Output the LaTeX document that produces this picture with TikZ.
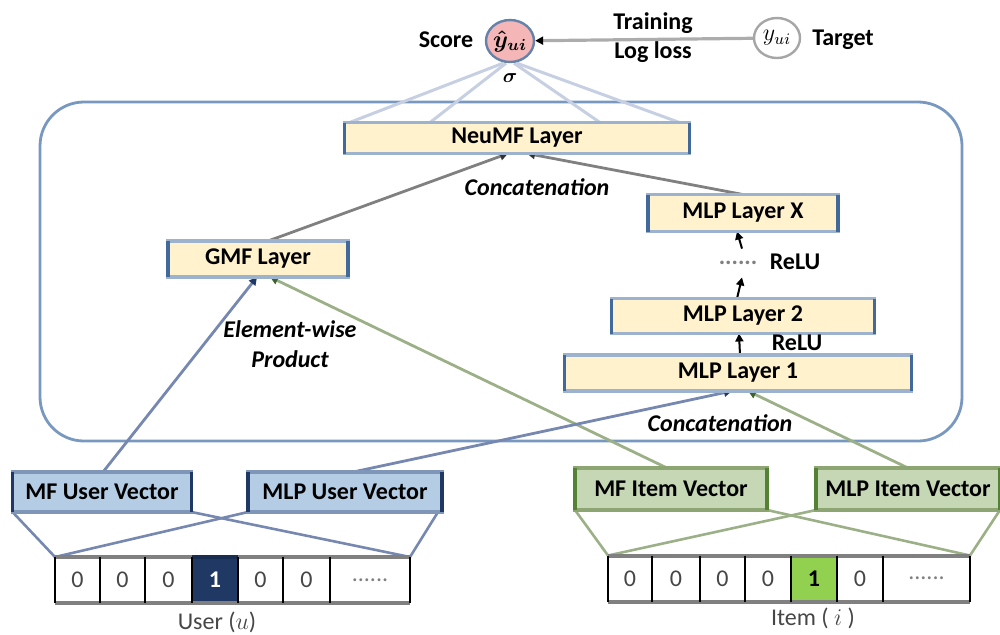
\documentclass[tikz,border=0pt]{standalone}
\usepackage{fontspec}
\setmainfont{Carlito}
\usetikzlibrary{arrows.meta,shapes.geometric}

\definecolor{layerfill}{RGB}{255,242,204}
\definecolor{layeredge}{RGB}{157,178,204}
\definecolor{layerside}{RGB}{65,105,155}
\definecolor{ufill}{RGB}{180,204,228}
\definecolor{uedge}{RGB}{128,150,184}
\definecolor{uside}{RGB}{31,56,100}
\definecolor{ifill}{RGB}{197,215,180}
\definecolor{iedge}{RGB}{140,165,115}
\definecolor{iside}{RGB}{84,130,53}
\definecolor{uline}{RGB}{118,136,176}
\definecolor{iline}{RGB}{156,176,136}
\definecolor{utip}{RGB}{31,56,100}
\definecolor{itip}{RGB}{60,100,40}
\definecolor{sigline}{RGB}{198,208,226}
\definecolor{framecol}{RGB}{120,152,192}
\definecolor{scorefill}{RGB}{244,182,182}
\definecolor{scoreedge}{RGB}{100,130,170}
\definecolor{navy}{RGB}{31,56,100}
\definecolor{onegreen}{RGB}{146,208,80}
\definecolor{cellrule}{RGB}{128,128,128}
\definecolor{celltext}{RGB}{70,70,70}

\pgfdeclarelayer{bg}
\pgfsetlayers{bg,main}

\tikzset{
  lbl/.style={font=\fontsize{12}{14}\selectfont\bfseries, inner sep=1pt},
  itlbl/.style={font=\fontsize{12}{14}\selectfont\bfseries\itshape, inner sep=1pt},
  mathlbl/.style={font=\fontsize{12}{14}\selectfont\boldmath},
  layerbox/.style={fill=layerfill, draw=layeredge, line width=1.6pt, inner sep=0, outer sep=0,
    font=\fontsize{12}{14}\selectfont\bfseries},
  uvec/.style={fill=ufill, draw=uedge, line width=1.6pt, inner sep=0, outer sep=0,
    font=\fontsize{12}{14}\selectfont\bfseries},
  ivec/.style={fill=ifill, draw=iedge, line width=1.6pt, inner sep=0, outer sep=0,
    font=\fontsize{12}{14}\selectfont\bfseries},
  cell/.style={fill=white, minimum height=23pt, inner sep=0, outer sep=0,
    font=\fontsize{12}{14}\selectfont, text=celltext},
  uarr/.style={uline, line width=1.4pt, -{Triangle[length=4pt,width=4pt,color=utip]}},
  iarr/.style={iline, line width=1.4pt, -{Triangle[length=4pt,width=4pt,color=itip]}},
  garr/.style={gray, line width=1.4pt, -{Triangle[length=4pt,width=4pt,color=black!80]}},
  karr/.style={black, line width=1pt, -{Triangle[length=4pt,width=4pt]}},
  ulink/.style={uline, line width=1.3pt},
  ilink/.style={iline, line width=1.3pt},
  siglink/.style={sigline, line width=1.5pt},
}

\begin{document}
\begin{tikzpicture}[x=0.5pt,y=-0.5pt]
\useasboundingbox (0,0) rectangle (1000,634);

% output and target
\node[ellipse, fill=scorefill, draw=scoreedge, line width=1.2pt, minimum width=24pt, minimum height=21pt, inner sep=0, mathlbl] (score) at (510,41) {$\hat{y}_{ui}$};
\node[ellipse, draw=gray!70, line width=1.2pt, minimum width=23pt, minimum height=20pt, inner sep=0, font=\fontsize{12}{14}\selectfont] (target) at (777,38) {$y_{ui}$};
\node[lbl] (scorelbl) at (446,40) {Score};
\node[lbl] (targetlbl) at (843,40) {Target};
\node[lbl] (train) at (653,23) {Training};
\node[lbl] (logloss) at (653,52) {Log loss};
\node[inner sep=0, font=\boldmath] (sigma) at (510,78) {$\sigma$};

% NeuMF layers
\node[layerbox, minimum width=172.5pt, minimum height=15.5pt] (neumf) at (517,138) {NeuMF Layer};
\node[layerbox, minimum width=90pt, minimum height=18pt] (gmf) at (258,259) {GMF Layer};
\node[layerbox, minimum width=95pt, minimum height=18.5pt] (mlpx) at (743,213) {MLP Layer X};
\node[layerbox, minimum width=131.5pt, minimum height=17.5pt] (mlp2) at (743,316) {MLP Layer 2};
\node[layerbox, minimum width=173.5pt, minimum height=18pt] (mlp1) at (738,373) {MLP Layer 1};
\foreach \n in {neumf,gmf,mlpx,mlp2,mlp1}
  \draw[layerside, line width=1.6pt] (\n.north west) -- (\n.south west)
                                     (\n.north east) -- (\n.south east);

\node[font=\fontsize{12}{14}\selectfont\bfseries, text=gray, inner sep=0, minimum height=14pt] (dots) at (738,263) {......};
\node[lbl] (relu2) at (795,262) {ReLU};
\node[lbl] (relu1) at (797,343) {ReLU};
\node[itlbl] (concattop) at (537,187) {Concatenation};
\node[itlbl] (concatbot) at (720,423) {Concatenation};
\node[itlbl, align=center] (ewp) at (290,344) {Element-wise\\[1pt]Product};

% embedding vectors
\node[uvec, minimum width=89.5pt, minimum height=20pt] (mfu) at (102,492) {MF User Vector};
\node[uvec, minimum width=97pt, minimum height=20pt] (mlpu) at (345,492) {MLP User Vector};
\node[ivec, minimum width=96pt, minimum height=21pt] (mfi) at (671,489) {MF Item Vector};
\node[ivec, minimum width=92pt, minimum height=21pt] (mlpi) at (908,489) {MLP Item Vector};
\foreach \n in {mfu,mlpu}
  \draw[uside, line width=1.6pt] (\n.north west) -- (\n.south west)
                                 (\n.north east) -- (\n.south east);
\foreach \n in {mfi,mlpi}
  \draw[iside, line width=1.6pt] (\n.north west) -- (\n.south west)
                                 (\n.north east) -- (\n.south east);

% one-hot user input
\node[cell, minimum width=22.5pt] (u1) at (77.5,580) {0};
\node[cell, minimum width=22.5pt] (u2) at (122.5,580) {0};
\node[cell, minimum width=23.5pt] (u3) at (168.5,580) {0};
\node[cell, minimum width=23pt, fill=navy, text=white, font=\fontsize{12}{14}\selectfont\bfseries] (u4) at (215,580) {1};
\node[cell, minimum width=22.5pt] (u5) at (260.5,580) {0};
\node[cell, minimum width=23.5pt] (u6) at (306.5,580) {0};
\node[cell, minimum width=40pt, text=gray] (u7) at (370,580) {......};
\node[font=\fontsize{12}{14}\selectfont, text=celltext, inner sep=1pt] (ulbl) at (217,622) {User ($u$)};

% one-hot item input
\node[cell, minimum width=22pt] (i1) at (630,578.5) {0};
\node[cell, minimum width=24pt] (i2) at (676,578.5) {0};
\node[cell, minimum width=22.5pt] (i3) at (722.5,578.5) {0};
\node[cell, minimum width=23pt] (i4) at (768,578.5) {0};
\node[cell, minimum width=23pt, fill=onegreen, text=black, font=\fontsize{12}{14}\selectfont\bfseries] (i5) at (814,578.5) {1};
\node[cell, minimum width=23pt] (i6) at (860,578.5) {0};
\node[cell, minimum width=43.5pt, text=gray] (i7) at (926.5,578.5) {......};
\node[font=\fontsize{12}{14}\selectfont, text=celltext, inner sep=1pt] (ilbl) at (813,618) {Item ( $i$ )};

% cell outlines
\draw[cellrule, line width=2pt] (u1.north west) -- (u7.north east) (u1.south west) -- (u7.south east);
\draw[cellrule, line width=2pt] (i1.north west) -- (i7.north east) (i1.south west) -- (i7.south east);
\draw[navy!80!black, line width=2pt] (u4.north west) -- (u4.north east);
\foreach \c in {u1,u2,u3,u4,u5,u6,u7,i1,i2,i3,i4,i5,i6,i7}
  \draw[black, line width=1.2pt] (\c.north west) -- (\c.south west)
                                 (\c.north east) -- (\c.south east);

\begin{pgfonlayer}{bg}
  % model frame
  \draw[framecol, line width=1.4pt, rounded corners=22pt] (40,102) rectangle (962,441);
  % prediction
  \draw[gray!65, line width=1.6pt, -{Triangle[length=4pt,width=4pt,color=black]}] (target) -- (score);
  \draw[siglink] ([xshift=-3.5pt]score.south) -- ([xshift=2.5pt]neumf.north west);
  \draw[siglink] ([xshift=-2pt]score.south) -- ([xshift=-43.5pt]neumf.north);
  \draw[siglink] ([xshift=2pt]score.south) -- ([xshift=41.5pt]neumf.north);
  \draw[siglink] ([xshift=3.5pt]score.south) -- ([xshift=-5pt]neumf.north east);
  % fusion
  \draw[garr] ([xshift=5pt]gmf.north) -- ([xshift=-4.5pt]neumf.south);
  \draw[garr] (mlpx.north) -- ([xshift=5pt]neumf.south);
  % MLP tower
  \draw[karr] ([xshift=1pt]mlp1.north) -- ([xshift=-2pt]mlp2.south);
  \draw[karr] ([xshift=-3pt]mlp2.north) -- ([xshift=2pt]dots.south);
  \draw[karr] ([xshift=2pt]dots.north) -- ([xshift=-3pt]mlpx.south);
  % embeddings to layers
  \draw[uarr] ([xshift=0.5pt]mfu.north) -- ([xshift=-0.5pt]gmf.south);
  \draw[iarr] ([xshift=-2pt]mfi.north) -- ([xshift=6pt]gmf.south);
  \draw[uarr] ([xshift=4pt]mlpu.north) -- ([xshift=-3pt]mlp1.south);
  \draw[iarr] (mlpi.north) -- ([xshift=5pt]mlp1.south);
  % embedding lookups
  \draw[ulink] (mfu.south west) -- (u1.north west);
  \draw[ulink] (mfu.south east) -- (u7.north east);
  \draw[ulink] (mlpu.south west) -- (u1.north west);
  \draw[ulink] ([xshift=-2pt]mlpu.south east) -- (u7.north east);
  \draw[ilink] (mfi.south west) -- (i1.north west);
  \draw[ilink] (mfi.south east) -- (i7.north east);
  \draw[ilink] (mlpi.south west) -- (i1.north west);
  \draw[ilink] (mlpi.south east) -- (i7.north east);
\end{pgfonlayer}
\end{tikzpicture}
\end{document}
